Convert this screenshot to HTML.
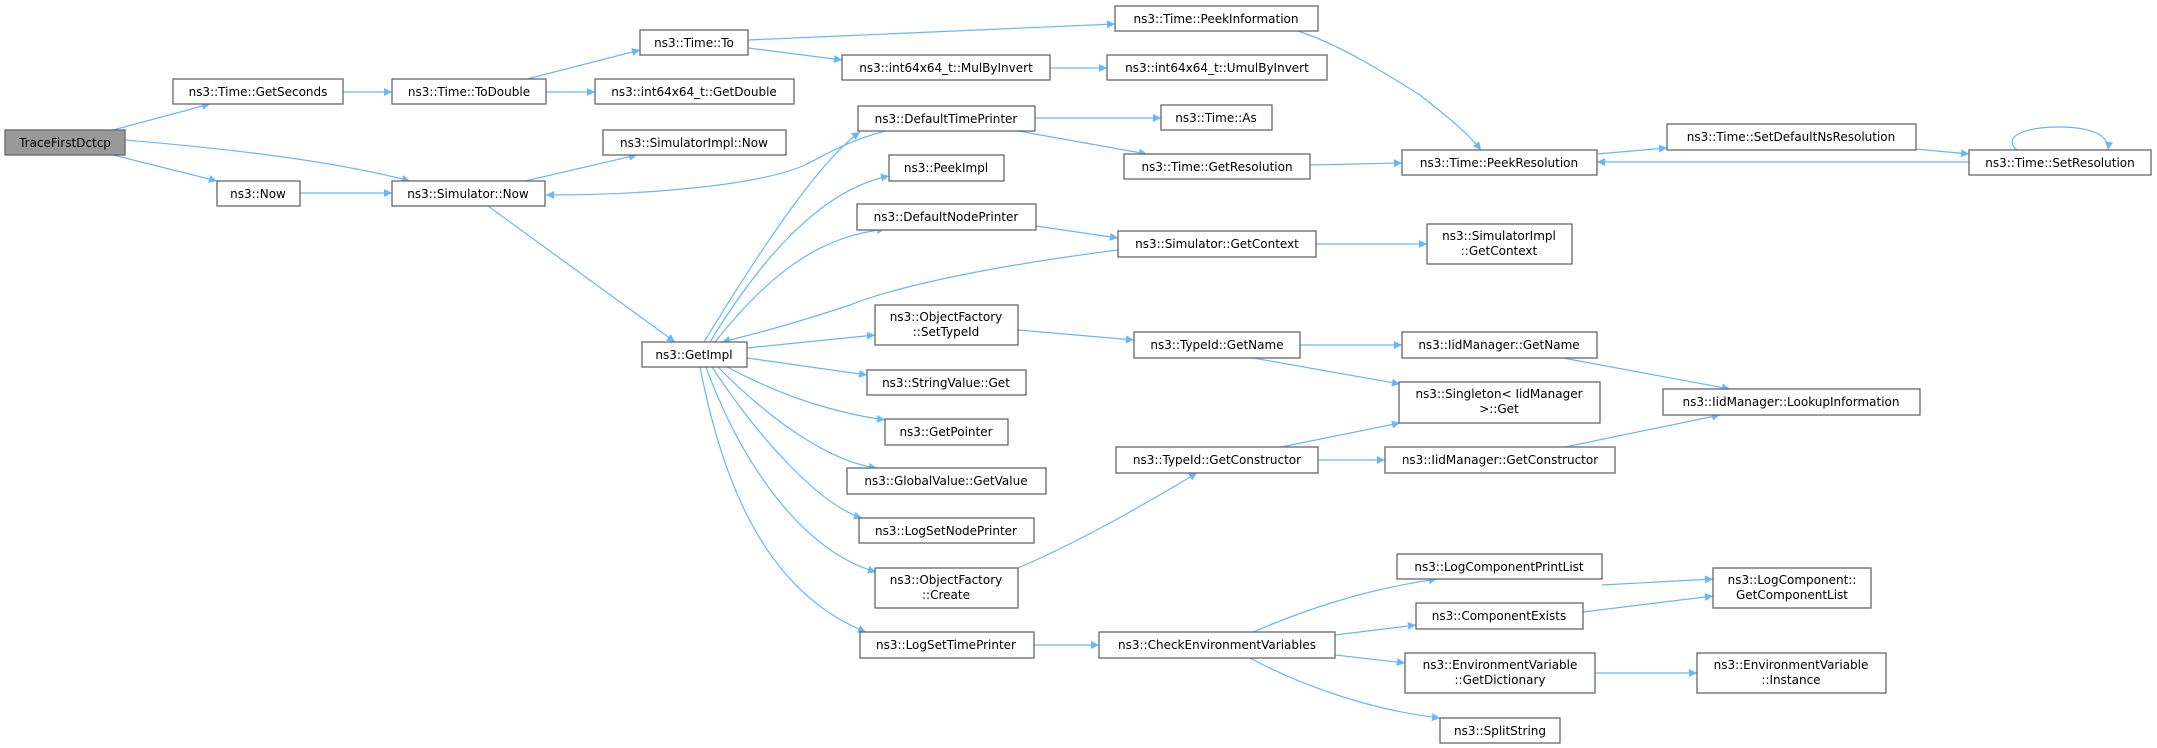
<!DOCTYPE html>
<html><head><meta charset="utf-8"><style>
html,body{margin:0;padding:0;background:#fff;}
svg{display:block;}
text{font-family:"DejaVu Sans","Liberation Sans",sans-serif;font-size:12px;fill:#000;}
.n{fill:#fff;stroke:#666;stroke-width:1.3;}
.e{fill:none;stroke:#63b8ff;stroke-width:1.2;}
</style></head><body>
<svg width="2157" height="748" viewBox="0 0 2157 748" xmlns="http://www.w3.org/2000/svg">
<defs>
<marker id="a" viewBox="0 0 10 10" refX="10" refY="5" markerWidth="11" markerHeight="8" markerUnits="userSpaceOnUse" orient="auto">
<path d="M0,0 L10,5 L0,10 z" fill="#63b8ff"/>
</marker>
</defs>
<g class="edges">
<path class="e" marker-end="url(#a)" d="M113,130 L210,104"/>
<path class="e" marker-end="url(#a)" d="M125,140 C220,148 330,160 410,181"/>
<path class="e" marker-end="url(#a)" d="M113,155 L217,181"/>
<path class="e" marker-end="url(#a)" d="M343,92 L392,92"/>
<path class="e" marker-end="url(#a)" d="M527,79 L640,50"/>
<path class="e" marker-end="url(#a)" d="M546,92 L595,92"/>
<path class="e" marker-end="url(#a)" d="M748,40 L1115,24"/>
<path class="e" marker-end="url(#a)" d="M748,48 L842,60"/>
<path class="e" marker-end="url(#a)" d="M1050,68 L1107,68"/>
<path class="e" marker-end="url(#a)" d="M300,193 L392,193"/>
<path class="e" marker-end="url(#a)" d="M525,181 L637,155"/>
<path class="e" marker-end="url(#a)" d="M488,206 L675,342"/>
<path class="e" marker-end="url(#a)" d="M885,131 C845,142 825,155 805,165 C760,185 650,195 546,195"/>
<path class="e" marker-end="url(#a)" d="M704,342 C760,250 820,160 860,132"/>
<path class="e" marker-end="url(#a)" d="M710,342 C760,260 820,190 889,176"/>
<path class="e" marker-end="url(#a)" d="M715,342 C780,260 830,236 885,229"/>
<path class="e" marker-end="url(#a)" d="M1118,250 C1000,265 900,285 850,305 C790,325 750,335 722,342"/>
<path class="e" marker-end="url(#a)" d="M747,348 L875,335"/>
<path class="e" marker-end="url(#a)" d="M747,358 L867,375"/>
<path class="e" marker-end="url(#a)" d="M727,367 C780,395 830,412 885,420"/>
<path class="e" marker-end="url(#a)" d="M718,367 C770,420 830,462 877,468"/>
<path class="e" marker-end="url(#a)" d="M712,367 C760,440 820,505 862,518"/>
<path class="e" marker-end="url(#a)" d="M706,367 C740,460 800,550 876,572"/>
<path class="e" marker-end="url(#a)" d="M700,367 C720,470 760,590 866,632"/>
<path class="e" marker-end="url(#a)" d="M1035,118 L1161,118"/>
<path class="e" marker-end="url(#a)" d="M1018,131 L1147,154"/>
<path class="e" marker-end="url(#a)" d="M1036,226 L1118,238"/>
<path class="e" marker-end="url(#a)" d="M1310,165 L1402,163"/>
<path class="e" marker-end="url(#a)" d="M1316,244 L1427,244"/>
<path class="e" marker-end="url(#a)" d="M1298,31 C1340,45 1380,70 1420,95 C1445,115 1465,130 1481,150"/>
<path class="e" marker-end="url(#a)" d="M1597,154 L1667,148"/>
<path class="e" marker-end="url(#a)" d="M1916,149 L1969,154"/>
<path class="e" marker-end="url(#a)" d="M1969,162 L1597,162"/>
<path class="e" marker-end="url(#a)" d="M2017,150 C2000,135 2030,127 2059,127 C2090,127 2110,135 2108,150"/>
<path class="e" marker-end="url(#a)" d="M1018,330 L1134,340"/>
<path class="e" marker-end="url(#a)" d="M1300,345 L1402,345"/>
<path class="e" marker-end="url(#a)" d="M1253,358 L1400,384"/>
<path class="e" marker-end="url(#a)" d="M1563,358 L1730,389"/>
<path class="e" marker-end="url(#a)" d="M1018,568 C1060,550 1110,525 1197,473"/>
<path class="e" marker-end="url(#a)" d="M1281,447 L1400,423"/>
<path class="e" marker-end="url(#a)" d="M1318,460 L1385,460"/>
<path class="e" marker-end="url(#a)" d="M1565,447 L1720,415"/>
<path class="e" marker-end="url(#a)" d="M1034,645 L1099,645"/>
<path class="e" marker-end="url(#a)" d="M1253,632 C1300,612 1360,590 1437,579"/>
<path class="e" marker-end="url(#a)" d="M1335,635 L1416,625"/>
<path class="e" marker-end="url(#a)" d="M1335,655 L1405,663"/>
<path class="e" marker-end="url(#a)" d="M1250,658 C1300,685 1370,710 1440,718"/>
<path class="e" marker-end="url(#a)" d="M1602,585 L1713,579"/>
<path class="e" marker-end="url(#a)" d="M1583,612 L1713,596"/>
<path class="e" marker-end="url(#a)" d="M1595,673 L1697,673"/>
</g>
<g>
<rect x="5" y="130" width="120" height="25" fill="#999" stroke="#666" stroke-width="1.3"/>
<text x="65" y="147" text-anchor="middle">TraceFirstDctcp</text>

<rect class="n" x="173" y="79" width="170" height="25"/><text x="258" y="96" text-anchor="middle">ns3::Time::GetSeconds</text>
<rect class="n" x="392" y="79" width="154" height="25"/><text x="469" y="96" text-anchor="middle">ns3::Time::ToDouble</text>
<rect class="n" x="217" y="181" width="83" height="25"/><text x="258" y="198" text-anchor="middle">ns3::Now</text>
<rect class="n" x="392" y="181" width="153" height="25"/><text x="468" y="198" text-anchor="middle">ns3::Simulator::Now</text>
<rect class="n" x="640" y="30" width="108" height="25"/><text x="694" y="47" text-anchor="middle">ns3::Time::To</text>
<rect class="n" x="595" y="79" width="199" height="25"/><text x="694" y="96" text-anchor="middle">ns3::int64x64_t::GetDouble</text>
<rect class="n" x="603" y="130" width="183" height="25"/><text x="694" y="147" text-anchor="middle">ns3::SimulatorImpl::Now</text>
<rect class="n" x="642" y="342" width="105" height="25"/><text x="694" y="359" text-anchor="middle">ns3::GetImpl</text>

<rect class="n" x="1115" y="6" width="203" height="25"/><text x="1216" y="23" text-anchor="middle">ns3::Time::PeekInformation</text>
<rect class="n" x="842" y="55" width="208" height="25"/><text x="946" y="72" text-anchor="middle">ns3::int64x64_t::MulByInvert</text>
<rect class="n" x="1107" y="55" width="220" height="25"/><text x="1217" y="72" text-anchor="middle">ns3::int64x64_t::UmulByInvert</text>
<rect class="n" x="858" y="106" width="177" height="25"/><text x="946" y="123" text-anchor="middle">ns3::DefaultTimePrinter</text>
<rect class="n" x="1161" y="105" width="111" height="25"/><text x="1216" y="122" text-anchor="middle">ns3::Time::As</text>
<rect class="n" x="889" y="155" width="115" height="26"/><text x="946" y="172" text-anchor="middle">ns3::PeekImpl</text>
<rect class="n" x="1124" y="154" width="186" height="25"/><text x="1217" y="171" text-anchor="middle">ns3::Time::GetResolution</text>
<rect class="n" x="857" y="204" width="179" height="26"/><text x="946" y="221" text-anchor="middle">ns3::DefaultNodePrinter</text>
<rect class="n" x="1118" y="231" width="198" height="26"/><text x="1217" y="248" text-anchor="middle">ns3::Simulator::GetContext</text>
<rect class="n" x="875" y="305" width="143" height="40"/><text x="946" y="321" text-anchor="middle">ns3::ObjectFactory</text><text x="946" y="336" text-anchor="middle">::SetTypeId</text>
<rect class="n" x="1134" y="332" width="166" height="26"/><text x="1217" y="349" text-anchor="middle">ns3::TypeId::GetName</text>
<rect class="n" x="867" y="370" width="159" height="25"/><text x="946" y="387" text-anchor="middle">ns3::StringValue::Get</text>
<rect class="n" x="885" y="419" width="123" height="26"/><text x="946" y="436" text-anchor="middle">ns3::GetPointer</text>
<rect class="n" x="847" y="468" width="199" height="26"/><text x="946" y="485" text-anchor="middle">ns3::GlobalValue::GetValue</text>
<rect class="n" x="859" y="518" width="175" height="25"/><text x="946" y="535" text-anchor="middle">ns3::LogSetNodePrinter</text>
<rect class="n" x="875" y="568" width="143" height="40"/><text x="946" y="584" text-anchor="middle">ns3::ObjectFactory</text><text x="946" y="599" text-anchor="middle">::Create</text>
<rect class="n" x="860" y="632" width="174" height="26"/><text x="946" y="649" text-anchor="middle">ns3::LogSetTimePrinter</text>
<rect class="n" x="1116" y="447" width="202" height="26"/><text x="1217" y="464" text-anchor="middle">ns3::TypeId::GetConstructor</text>
<rect class="n" x="1099" y="632" width="236" height="26"/><text x="1217" y="649" text-anchor="middle">ns3::CheckEnvironmentVariables</text>

<rect class="n" x="1402" y="150" width="195" height="25"/><text x="1499" y="167" text-anchor="middle">ns3::Time::PeekResolution</text>
<rect class="n" x="1667" y="124" width="249" height="26"/><text x="1791" y="141" text-anchor="middle">ns3::Time::SetDefaultNsResolution</text>
<rect class="n" x="1969" y="150" width="182" height="25"/><text x="2060" y="167" text-anchor="middle">ns3::Time::SetResolution</text>
<rect class="n" x="1427" y="224" width="145" height="40"/><text x="1499" y="240" text-anchor="middle">ns3::SimulatorImpl</text><text x="1499" y="255" text-anchor="middle">::GetContext</text>
<rect class="n" x="1402" y="332" width="195" height="26"/><text x="1499" y="349" text-anchor="middle">ns3::IidManager::GetName</text>
<rect class="n" x="1399" y="382" width="201" height="41"/><text x="1499" y="398" text-anchor="middle">ns3::Singleton&lt; IidManager</text><text x="1499" y="413" text-anchor="middle">&gt;::Get</text>
<rect class="n" x="1663" y="389" width="257" height="26"/><text x="1791" y="406" text-anchor="middle">ns3::IidManager::LookupInformation</text>
<rect class="n" x="1385" y="447" width="230" height="26"/><text x="1500" y="464" text-anchor="middle">ns3::IidManager::GetConstructor</text>
<rect class="n" x="1397" y="554" width="205" height="25"/><text x="1499" y="571" text-anchor="middle">ns3::LogComponentPrintList</text>
<rect class="n" x="1713" y="568" width="158" height="40"/><text x="1792" y="584" text-anchor="middle">ns3::LogComponent::</text><text x="1792" y="599" text-anchor="middle">GetComponentList</text>
<rect class="n" x="1416" y="603" width="167" height="26"/><text x="1499" y="620" text-anchor="middle">ns3::ComponentExists</text>
<rect class="n" x="1405" y="653" width="190" height="40"/><text x="1500" y="669" text-anchor="middle">ns3::EnvironmentVariable</text><text x="1500" y="684" text-anchor="middle">::GetDictionary</text>
<rect class="n" x="1697" y="653" width="189" height="40"/><text x="1791" y="669" text-anchor="middle">ns3::EnvironmentVariable</text><text x="1791" y="684" text-anchor="middle">::Instance</text>
<rect class="n" x="1440" y="718" width="120" height="25"/><text x="1500" y="735" text-anchor="middle">ns3::SplitString</text>
</g>
</svg>
</body></html>
